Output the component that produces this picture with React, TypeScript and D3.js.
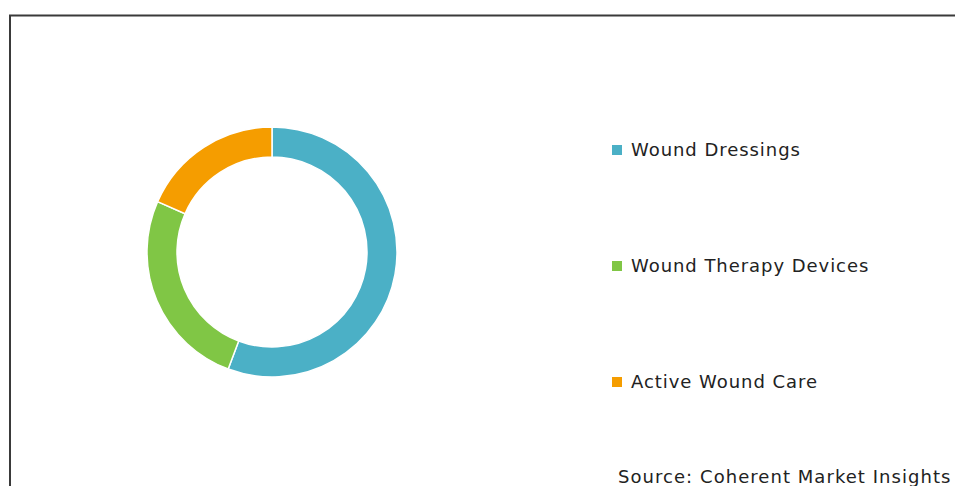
import React from "react";
import * as d3 from "d3";

const categories = ["Wound Dressings", "Wound Therapy Devices", "Active Wound Care"];
const values = [55.7, 25.9, 18.4];
const colors = ["#4BB0C6", "#80C645", "#F59D00"];
const sourceText = "Source: Coherent Market Insights";

export default function App() {
  const W = 955, H = 486;
  const cx = 272, cy = 252, rOuter = 125, rInner = 95;
  const pie = d3.pie<number>().value((d) => d).sort(null);
  const arcs = pie(values);
  const arcGen = d3.arc<d3.PieArcDatum<number>>().innerRadius(rInner).outerRadius(rOuter);
  const legendY = d3.scalePoint<string>().domain(categories).range([150, 382]);
  const font = "'DejaVu Sans', sans-serif";
  return (
    <svg width={W} height={H} style={{ position: "absolute", left: 0, top: 0, background: "#fff" }}>
      <rect x={10} y={15.5} width={W + 20} height={H + 20} fill="#fff" stroke="#3a3a3a" strokeWidth={2} />
      <g transform={`translate(${cx},${cy})`}>
        {arcs.map((a, i) => (
          <path key={i} d={arcGen(a) || ""} fill={colors[i]} stroke="#fff" strokeWidth={1.5} />
        ))}
      </g>
      {categories.map((c, i) => (
        <g key={c} transform={`translate(612,${legendY(c)})`}>
          <rect x={0} y={-5} width={10} height={10} fill={colors[i]} />
          <text x={19} y={0} dy="0.36em" fontFamily={font} fontSize={18} letterSpacing={0.95} fill="#222">{c}</text>
        </g>
      ))}
      <text x={618} y={483} fontFamily={font} fontSize={18} letterSpacing={1.05} fill="#222">{sourceText}</text>
    </svg>
  );
}
